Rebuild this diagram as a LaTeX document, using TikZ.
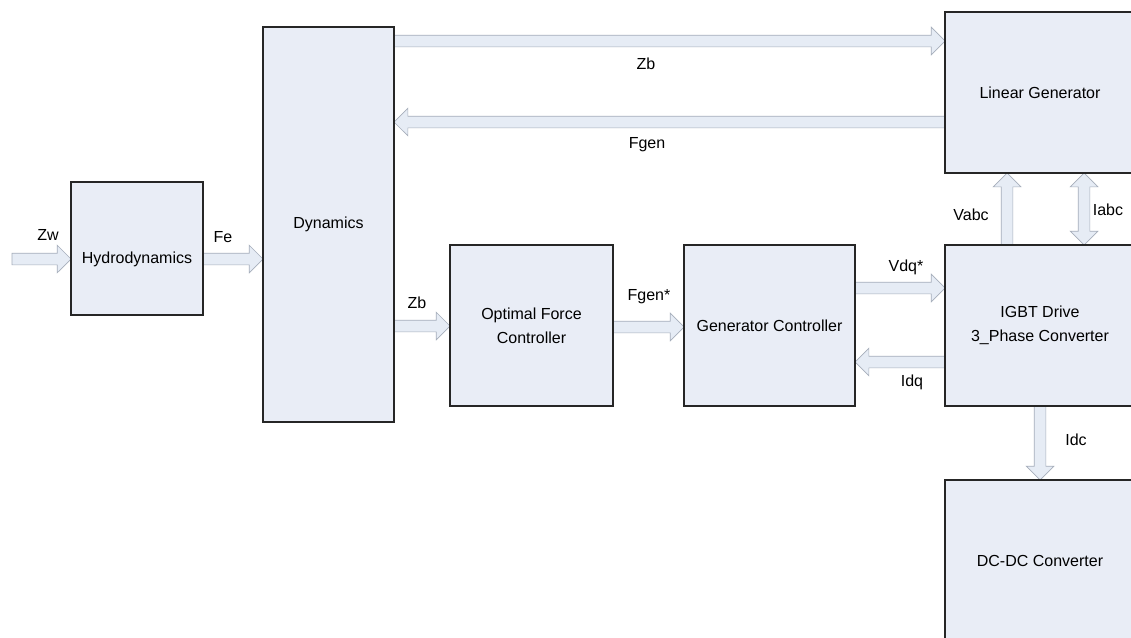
\documentclass[tikz,border=0pt]{standalone}
\usepackage{fontspec}
\setmainfont{Liberation Sans}
\usetikzlibrary{shapes.arrows,calc,backgrounds}
\definecolor{boxfill}{HTML}{E9EDF6}
\definecolor{boxline}{HTML}{262626}
\definecolor{arrfill}{HTML}{E6ECF5}
\definecolor{arrline}{HTML}{A6AEBB}
\tikzset{
  box/.style={draw=boxline, fill=boxfill, line width=1.1pt, inner sep=0pt, outer sep=0pt,
    anchor=north west, align=center},
  lbl/.style={inner sep=0pt, outer sep=0pt},
  sarrow/.style={single arrow, draw=arrline, fill=arrfill, line width=0.7pt,
    single arrow head extend=8pt, inner xsep=0pt, inner ysep=5.5pt, outer sep=0pt,
    text height=0pt, text depth=0pt, shape border rotate=0},
  darrow/.style={double arrow, draw=arrline, fill=arrfill, line width=0.7pt,
    double arrow head extend=8pt, inner xsep=0pt, inner ysep=5.5pt, outer sep=0pt,
    text height=0pt, text depth=0pt, shape border rotate=0},
  barrow/.style={to path={
    let \p1=($(\tikztotarget)-(\tikztostart)$),
        \n1={veclen(\x1,\y1)},
        \n2={atan2(\y1,\x1)} in
    (\tikztostart) node[sarrow, minimum height=\n1, rotate=\n2, anchor=tail]{}}},
  dbarrow/.style={to path={
    let \p1=($(\tikztotarget)-(\tikztostart)$),
        \n1={veclen(\x1,\y1)},
        \n2={atan2(\y1,\x1)} in
    ($(\tikztostart)!0.5!(\tikztotarget)$) node[darrow, minimum height=\n1, rotate=\n2, anchor=center]{}}},
}
\begin{document}
\begin{tikzpicture}[x=1pt, y=-1pt, font=\fontsize{16}{24}\selectfont]
\useasboundingbox (0,0) rectangle (1131,637);
\clip (0,0) rectangle (1131,637);

% blocks
\node[box, minimum width=132pt, minimum height=133pt,
  label={[lbl, yshift=-10.5pt]center:Hydrodynamics}] (hyd) at (71,182) {};
\node[box, minimum width=131pt, minimum height=395pt] (dyn) at (263,27) {Dynamics};
\node[box, minimum width=163pt, minimum height=161pt] (ofc) at (450,245) {Optimal Force\\Controller};
\node[box, minimum width=171pt, minimum height=161pt] (gc) at (684,245) {Generator Controller};
\node[box, minimum width=190pt, minimum height=161pt] (lg) at (945,12) {Linear Generator};
\node[box, minimum width=190pt, minimum height=161pt] (igbt) at (945,245) {IGBT Drive\\3\_Phase Converter};
\node[box, minimum width=190pt, minimum height=161pt] (dcdc) at (945,480) {DC-DC Converter};

% reference levels
\coordinate (zwtail) at (12,259);
\coordinate (yzb) at (0,41);
\coordinate (yfgen) at (0,122);
\coordinate (yzb2) at (0,326);
\coordinate (yfgs) at (0,327);
\coordinate (yvdq) at (0,288);
\coordinate (yidq) at (0,362);
\coordinate (xvabc) at (1007,0);
\coordinate (xiabc) at (1084,0);
\coordinate (xidc) at (1040,0);

\begin{pgfonlayer}{background}
\fill[white] (0,0) rectangle (1131,637);
\path[barrow] (zwtail) to (zwtail -| hyd.west);
\path[barrow] (hyd.east |- zwtail) to (dyn.west |- zwtail);
\path[barrow] (dyn.east |- yzb) to (lg.west |- yzb);
\path[barrow] (lg.west |- yfgen) to (dyn.east |- yfgen);
\path[barrow] (dyn.east |- yzb2) to (ofc.west |- yzb2);
\path[barrow] (ofc.east |- yfgs) to (gc.west |- yfgs);
\path[barrow] (gc.east |- yvdq) to (igbt.west |- yvdq);
\path[barrow] (igbt.west |- yidq) to (gc.east |- yidq);
\path[barrow] (igbt.north -| xvabc) to (lg.south -| xvabc);
\path[dbarrow] (igbt.north -| xiabc) to (lg.south -| xiabc);
\path[barrow] (igbt.south -| xidc) to (dcdc.north -| xidc);
\end{pgfonlayer}

% labels
\node[lbl] (lzw) at (48,235) {Zw};
\node[lbl] (lfe) at (223,237) {Fe};
\node[lbl] (lzb) at (646,64) {Zb};
\node[lbl] (lfgen) at (647,145) {Fgen};
\node[lbl] (lzb2) at (417,303) {Zb};
\node[lbl] (lfgs) at (649,297) {Fgen*};
\node[lbl] (lvdq) at (906,267) {Vdq*};
\node[lbl] (lidq) at (912,382) {Idq};
\node[lbl] (lvabc) at (971,215) {Vabc};
\node[lbl] (liabc) at (1108,210) {Iabc};
\node[lbl] (lidc) at (1076,440) {Idc};
\end{tikzpicture}
\end{document}
